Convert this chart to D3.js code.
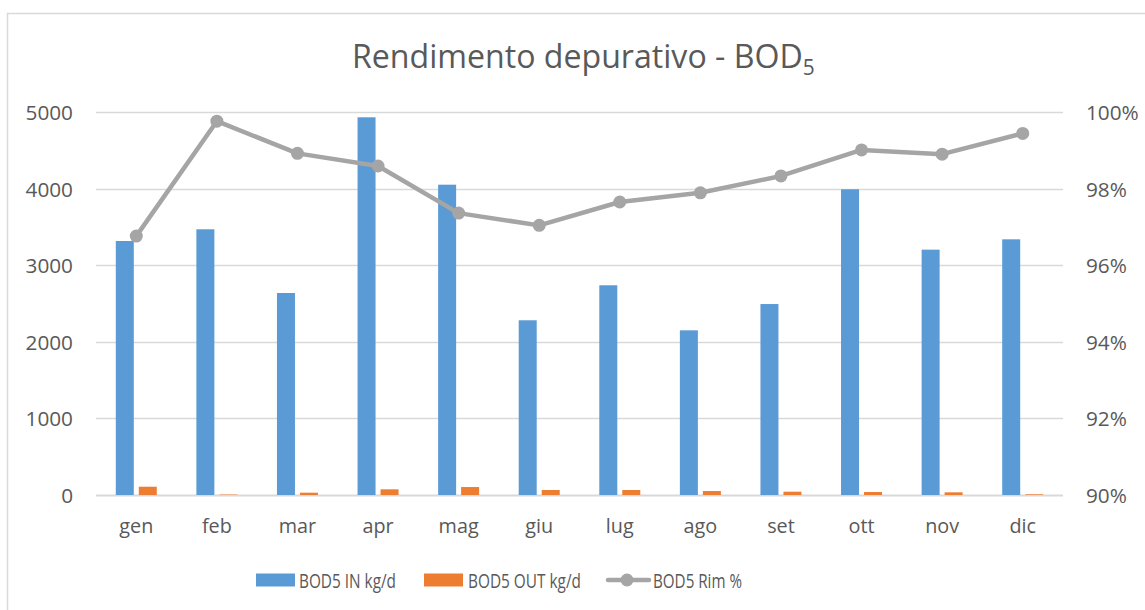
<!DOCTYPE html>
<html lang="it">
<head>
<meta charset="UTF-8"/>
<title>Rendimento depurativo - BOD5</title>
<script src="https://cdn.jsdelivr.net/npm/d3@7/dist/d3.min.js"></script>
<style>
  * { margin: 0; padding: 0; }
  body { background: #fff; width: 1145px; height: 610px; overflow: hidden; font-family: "Open Sans", sans-serif; }
  svg { display: block; }
  text { fill: #595959; }
</style>
</head>
<body>
<svg id="chart" width="1145" height="610"></svg>
<script>
// --- data ---
const months   = ['gen', 'feb', 'mar', 'apr', 'mag', 'giu', 'lug', 'ago', 'set', 'ott', 'nov', 'dic']
const bodIn    = [3316, 3469, 2637, 4931, 4051, 2281, 2738, 2150, 2493, 3991, 3203, 3338]
const bodOut   = [108, 6, 30, 74, 104, 65, 65, 52, 43, 39, 35, 9]
const bodRim   = [96.76, 99.76, 98.92, 98.59, 97.36, 97.04, 97.65, 97.89, 98.33, 99.01, 98.90, 99.44]
const leftTicks  = [0, 1000, 2000, 3000, 4000, 5000]
const rightTicks = [90, 92, 94, 96, 98, 100]

const BLUE = '#5b9bd5', ORANGE = '#ed7d31', GRAY = '#a5a5a5', GRID = '#d9d9d9'

const svg = d3.select('#chart')
const plot = { left: 96, right: 1063, top: 112, bottom: 495 }

// fit a text element's font size so it spans a given width
function fit(sel, width) {
  const node = sel.node()
  const base = 20
  sel.attr('font-size', base)
  const w = node.getComputedTextLength()
  const fs = base * width / w
  sel.attr('font-size', fs)
  return fs
}

// outer frame
svg.append('rect')
  .attr('x', 7.5).attr('y', 13.5).attr('width', 1160).attr('height', 620)
  .attr('fill', 'none').attr('stroke', GRID).attr('stroke-width', 1.5)

const x = d3.scaleBand().domain(months).range([plot.left, plot.right])
const yL = d3.scaleLinear().domain([0, 5000]).range([plot.bottom, plot.top])
const yR = d3.scaleLinear().domain([90, 100]).range([plot.bottom, plot.top])

// gridlines
svg.append('g').selectAll('line').data(leftTicks).join('line')
  .attr('x1', plot.left).attr('x2', plot.right)
  .attr('y1', d => Math.round(yL(d)) + 0.5).attr('y2', d => Math.round(yL(d)) + 0.5)
  .attr('stroke', GRID).attr('stroke-width', d => d === 0 ? 2 : 1.5)

// left axis labels
const tmpL = svg.append('text').text('5000')
const fsL = fit(tmpL, 47.5)
tmpL.remove()
svg.append('g').selectAll('text').data(leftTicks).join('text')
  .attr('x', 73).attr('y', d => yL(d))
  .attr('text-anchor', 'end').attr('dominant-baseline', 'central')
  .attr('font-size', fsL)
  .text(d => d)

// right axis labels
svg.append('g').selectAll('text').data(rightTicks).join('text')
  .attr('x', 1086).attr('y', d => yR(d))
  .attr('dominant-baseline', 'central')
  .attr('font-size', fsL)
  .text(d => d + '%')

// bars
const barW = 18, gap = 5
const cx = m => x(m) + x.bandwidth() / 2

svg.append('g').selectAll('rect').data(months).join('rect')
  .attr('x', (m) => cx(m) - gap / 2 - barW)
  .attr('width', barW)
  .attr('y', (m, i) => yL(bodIn[i]))
  .attr('height', (m, i) => yL(0) - yL(bodIn[i]))
  .attr('fill', BLUE)

svg.append('g').selectAll('rect').data(months).join('rect')
  .attr('x', (m) => cx(m) + gap / 2)
  .attr('width', barW)
  .attr('y', (m, i) => yL(bodOut[i]))
  .attr('height', (m, i) => yL(0) - yL(bodOut[i]))
  .attr('fill', ORANGE)

// x labels
const tmpX = svg.append('text').text('gen')
const fsX = fit(tmpX, 34)
tmpX.remove()
svg.append('g').selectAll('text').data(months).join('text')
  .attr('x', m => cx(m)).attr('y', 533)
  .attr('text-anchor', 'middle')
  .attr('font-size', fsX)
  .text(m => m)

// line + markers
const line = d3.line().x((d, i) => cx(months[i])).y(d => yR(d))
svg.append('path').datum(bodRim)
  .attr('d', line).attr('fill', 'none')
  .attr('stroke', GRAY).attr('stroke-width', 4.5).attr('stroke-linejoin', 'round')

svg.append('g').selectAll('circle').data(bodRim).join('circle')
  .attr('cx', (d, i) => cx(months[i])).attr('cy', d => yR(d))
  .attr('r', 6.5).attr('fill', GRAY)

// title
const title = svg.append('text')
  .attr('x', 352).attr('y', 68)
  .text('Rendimento depurativo - BOD')
const fsT = fit(title, 451)
title.append('tspan').attr('dy', fsT * 0.22).attr('font-size', fsT * 0.65).text('5')

// legend (text in the reference is horizontally condensed)
const legY = 580
const leg = svg.append('g')
const legItems = [
  { label: 'BOD5 IN kg/d',  kind: 'rect', color: BLUE,   sx: 256, tx: 299, tw: 97 },
  { label: 'BOD5 OUT kg/d', kind: 'rect', color: ORANGE, sx: 424, tx: 468, tw: 113 },
  { label: 'BOD5 Rim %',    kind: 'line', color: GRAY,   sx: 608, tx: 653, tw: 89 },
]

legItems.forEach(it => {
  if (it.kind === 'rect') {
    leg.append('rect').attr('x', it.sx).attr('y', legY - 6.5)
      .attr('width', 39).attr('height', 13).attr('fill', it.color)
  } else {
    leg.append('line').attr('x1', it.sx).attr('x2', it.sx + 41)
      .attr('y1', legY).attr('y2', legY)
      .attr('stroke', it.color).attr('stroke-width', 4.5).attr('stroke-linecap', 'round')
    leg.append('circle').attr('cx', it.sx + 19).attr('cy', legY).attr('r', 6.5).attr('fill', it.color)
  }
  leg.append('text').attr('x', it.tx).attr('y', legY)
    .attr('dominant-baseline', 'central')
    .attr('font-size', fsL)
    .attr('textLength', it.tw)
    .attr('lengthAdjust', 'spacingAndGlyphs')
    .text(it.label)
})
</script>
</body>
</html>
